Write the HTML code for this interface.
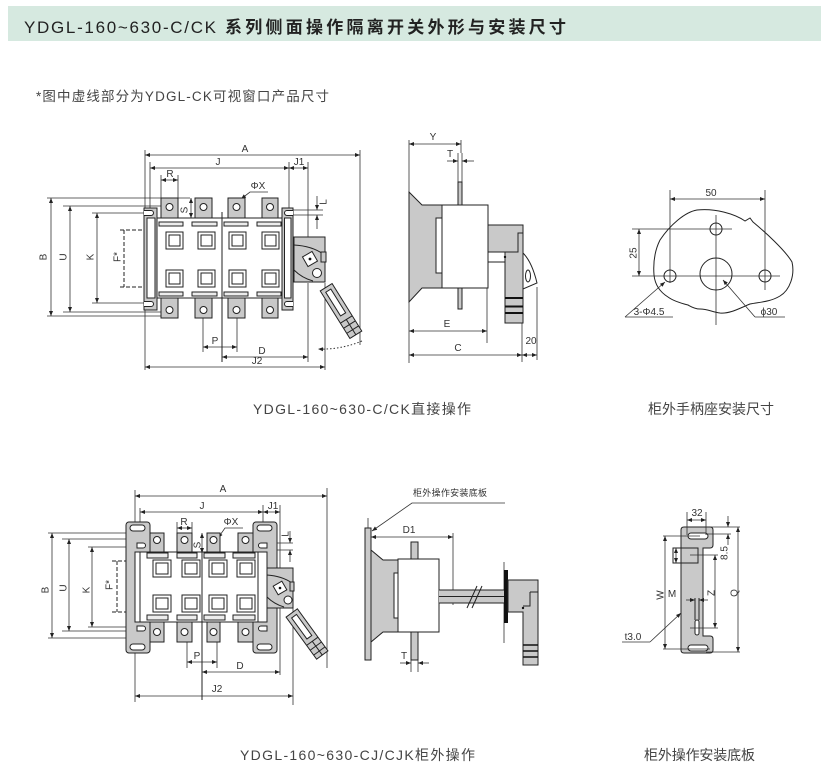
<!DOCTYPE html>
<html><head><meta charset="utf-8"><style>
html,body{margin:0;padding:0;background:#fff;}
svg{display:block;}
.o{stroke:#222;stroke-width:1;fill:none}
.g{fill:#c9c9c9;stroke:#222;stroke-width:1}
.w{fill:#fff;stroke:#222;stroke-width:1}
.s{fill:#ececec;stroke:#222;stroke-width:1}
.d{stroke:#333;stroke-width:0.8;fill:none}
.dm{stroke:#333;stroke-width:0.8;fill:none;marker-start:url(#a);marker-end:url(#a)}
.de{stroke:#333;stroke-width:0.8;fill:none;marker-end:url(#a)}
.ds{stroke:#222;stroke-width:1;fill:none;stroke-dasharray:4 2}
.t{font-family:"Liberation Sans",sans-serif;font-size:10px;fill:#333;text-anchor:middle}
.cj{font-family:"Liberation Sans","Noto Sans CJK SC",sans-serif;}
</style></head><body>
<svg width="829" height="774" viewBox="0 0 829 774" xmlns="http://www.w3.org/2000/svg">
<defs>
<marker id="a" viewBox="0 0 10 10" refX="10" refY="5" markerUnits="userSpaceOnUse" markerWidth="6" markerHeight="5" orient="auto-start-reverse"><path d="M0,1 L10,5 L0,9z" fill="#222"/></marker>
</defs>

<!-- Header -->
<rect x="8" y="6" width="813" height="35" fill="#d6e9e0"/>
<text class="cj" x="24" y="33" font-size="17" fill="#222" textLength="192" lengthAdjust="spacing">YDGL-160~630-C/CK</text>
<text class="cj" x="225" y="33" font-size="17" font-weight="bold" fill="#222" textLength="341" lengthAdjust="spacing">系列侧面操作隔离开关外形与安装尺寸</text>
<text class="cj" x="36" y="101" font-size="13.5" fill="#444" textLength="293" lengthAdjust="spacing">*图中虚线部分为YDGL-CK可视窗口产品尺寸</text>

<!-- Captions -->
<text class="cj" x="253" y="414" font-size="14" fill="#444" textLength="218" lengthAdjust="spacing">YDGL-160~630-C/CK直接操作</text>
<text class="cj" x="648" y="414" font-size="14" fill="#444" textLength="126" lengthAdjust="spacing">柜外手柄座安装尺寸</text>
<text class="cj" x="240" y="760" font-size="14" fill="#444" textLength="235" lengthAdjust="spacing">YDGL-160~630-CJ/CJK柜外操作</text>
<text class="cj" x="644" y="760" font-size="14" fill="#444" textLength="111" lengthAdjust="spacing">柜外操作安装底板</text>

<!-- ============ TOP-LEFT FRONT VIEW ============ -->
<path class="d" d="M145 150V370 M150 162V210 M289 162V210 M308 162V237 M360 150V345 M161 175V198 M178 175V198 M47 198H190 M47 316H170 M63 206H175 M63 312H170 M92 213H148 M92 303H148 M288 210H323 M288 215H323 M203 313V352 M237 313V352 M308 283V362 M325 283V370"/>
<path class="dm" d="M145 155H360"/>
<path class="dm" d="M150 168H289"/>
<path class="dm" d="M289 168H308"/>
<path class="dm" d="M161 180H178"/>
<path class="dm" d="M51 198V316"/>
<path class="dm" d="M70 206V312"/>
<path class="dm" d="M97 213V303"/>
<path class="dm" d="M191 198V218"/>
<path class="dm" d="M203 347H237"/>
<path class="dm" d="M222 357H308"/>
<path class="dm" d="M145 367H325"/>
<path class="de" d="M317 196V210"/>
<path class="de" d="M317 229V215"/>
<path class="ds" d="M124 230V287 M120 230H165 M120 287H165"/>
<path class="de" d="M268 192H250L241 199"/>
<text class="t" x="245" y="152">A</text>
<text class="t" x="218" y="165">J</text>
<text class="t" x="299" y="165">J1</text>
<text class="t" x="170" y="177">R</text>
<text class="t" x="258" y="189">ΦX</text>
<text class="t" x="215" y="344">P</text>
<text class="t" x="262" y="354">D</text>
<text class="t" x="257" y="364">J2</text>
<text class="t" transform="translate(43,257) rotate(-90)" y="3.5">B</text>
<text class="t" transform="translate(63,257) rotate(-90)" y="3.5">U</text>
<text class="t" transform="translate(90,257) rotate(-90)" y="3.5">K</text>
<text class="t" transform="translate(117,257) rotate(-90)" y="3.5">F*</text>
<text class="t" transform="translate(184,210) rotate(-90)" y="3.5">S</text>
<text class="t" transform="translate(323,202) rotate(-90)" y="3.5">L</text>

<!-- terminals -->
<g>
<rect class="g" x="161" y="198" width="17" height="20"/><circle class="w" cx="169.5" cy="207" r="3.5"/>
<rect class="g" x="195" y="198" width="17" height="20"/><circle class="w" cx="203.5" cy="207" r="3.5"/>
<rect class="g" x="228" y="198" width="17" height="20"/><circle class="w" cx="236.5" cy="207" r="3.5"/>
<rect class="g" x="262" y="198" width="16" height="20"/><circle class="w" cx="270" cy="207" r="3.5"/>
<rect class="g" x="161" y="298" width="17" height="20"/><circle class="w" cx="169.5" cy="310" r="3.5"/>
<rect class="g" x="195" y="298" width="17" height="20"/><circle class="w" cx="203.5" cy="310" r="3.5"/>
<rect class="g" x="228" y="298" width="17" height="20"/><circle class="w" cx="236.5" cy="310" r="3.5"/>
<rect class="g" x="262" y="298" width="16" height="20"/><circle class="w" cx="270" cy="310" r="3.5"/>
</g>
<!-- brackets -->
<rect class="g" x="144" y="208" width="13" height="102"/>
<rect class="w" x="147" y="218" width="8" height="80"/>
<path class="w" d="M144 210.5H151a2.5 2.5 0 0 1 0 5H144 M144 301.5H151a2.5 2.5 0 0 1 0 5H144"/>
<rect class="g" x="282" y="208" width="11" height="102"/>
<rect class="w" x="284.5" y="218" width="6.5" height="80"/>
<path class="w" d="M293 210.5H287a2.5 2.5 0 0 0 0 5H293 M293 301.5H287a2.5 2.5 0 0 0 0 5H293"/>
<!-- body -->
<rect class="w" x="157" y="218" width="125" height="80"/>
<path class="o" d="M222 212V362" stroke-width="0.9"/>
<rect class="s" x="159" y="222" width="24" height="4"/><rect class="s" x="192" y="222" width="25" height="4"/><rect class="s" x="224" y="222" width="24" height="4"/><rect class="s" x="257" y="222" width="24" height="4"/>
<rect class="s" x="159" y="292" width="24" height="4"/><rect class="s" x="192" y="292" width="25" height="4"/><rect class="s" x="224" y="292" width="24" height="4"/><rect class="s" x="257" y="292" width="24" height="4"/>
<g stroke-width="1.3">
<rect class="w" x="166" y="232" width="17" height="17"/><rect class="w" x="169" y="235" width="11" height="11"/>
<rect class="w" x="198" y="232" width="17" height="17"/><rect class="w" x="201" y="235" width="11" height="11"/>
<rect class="w" x="229" y="232" width="17" height="17"/><rect class="w" x="232" y="235" width="11" height="11"/>
<rect class="w" x="262" y="232" width="17" height="17"/><rect class="w" x="265" y="235" width="11" height="11"/>
<rect class="w" x="166" y="270" width="17" height="17"/><rect class="w" x="169" y="273" width="11" height="11"/>
<rect class="w" x="198" y="270" width="17" height="17"/><rect class="w" x="201" y="273" width="11" height="11"/>
<rect class="w" x="229" y="270" width="17" height="17"/><rect class="w" x="232" y="273" width="11" height="11"/>
<rect class="w" x="262" y="270" width="17" height="17"/><rect class="w" x="265" y="273" width="11" height="11"/>
</g>
<!-- handle base -->
<rect class="g" x="294" y="237" width="31" height="45"/>
<path class="o" d="M294 245Q312 246 323 254 M294 270Q302 278 313 281"/>
<rect class="g" x="321" y="252" width="5" height="10"/>
<rect class="w" x="304.5" y="253.5" width="11" height="11" transform="rotate(-30 310 259)"/>
<circle cx="310" cy="259" r="1.4" fill="#111"/>
<circle class="w" cx="317" cy="273" r="4.5"/>
<!-- grip -->
<g transform="translate(341,311) rotate(-32)">
<rect class="g" x="-7" y="-28" width="14" height="56"/>
<rect class="w" x="-3" y="-24" width="6" height="28"/>
<path class="o" d="M-7 10H7 M-7 16H7 M-7 22H7 M0 10V28"/>
</g>
<path d="M362 341Q340 350 318 349" stroke="#333" stroke-width="1" fill="none" stroke-dasharray="1.5 2" marker-end="url(#a)"/>

<!-- ============ TOP SIDE VIEW ============ -->
<path class="d" d="M409 140V363 M461 140V153 M458 153V182 M462 153V182 M487 288V343 M522 323V362 M537 287V360"/>
<path class="dm" d="M409 144H461"/>
<path class="de" d="M447 161H458"/>
<path class="de" d="M474 161H462"/>
<path class="dm" d="M409 331H487"/>
<path class="dm" d="M409 355H522"/>
<path class="dm" d="M522 355H537"/>
<text class="t" x="433" y="140">Y</text>
<text class="t" x="450" y="157">T</text>
<text class="t" x="447" y="327">E</text>
<text class="t" x="458" y="351">C</text>
<text class="t" x="531" y="344">20</text>
<rect class="g" x="458" y="182" width="4" height="23"/>
<rect class="g" x="458" y="288" width="4" height="21"/>
<polygon class="g" points="409,192 422,205 442,205 442,288 422,288 409,302"/>
<rect class="w" x="436" y="218" width="6" height="55"/>
<rect class="w" x="442" y="205" width="46" height="83"/>
<polygon class="g" points="488,225 523,225 523,323 505,323 505,252 488,252"/>
<path class="o" d="M488 262H505 M505 252H518V233H523"/>
<circle cx="505" cy="257" r="1.2" fill="#111"/>
<path d="M505 298H523 M505 306.5H523 M505 313H523" stroke="#111" stroke-width="2"/>
<path class="w" d="M523 253Q532 262 537 283L523 289Z"/>
<ellipse class="w" cx="528" cy="276" rx="2.5" ry="6"/>

<!-- ============ TOP RIGHT MOUNT ============ -->
<path class="d" d="M670 190V283 M765 190V290 M632 276H780 M716 215V325 M632 229H732"/>
<path class="dm" d="M670 199H765"/>
<path class="dm" d="M639 229V276"/>
<text class="t" x="711" y="196">50</text>
<text class="t" transform="translate(633,253) rotate(-90)" y="3.5">25</text>
<path class="o" d="M660,240 C670,225 685,212 697,210 C715,208 735,214 745,221 L750,218 L753,222 C765,232 785,250 792,262 C795,275 790,290 780,296 C770,302 760,302 750,304 C740,308 730,314 720,313 C712,312 708,309 700,309 C694,309 690,306 688,305 C680,303 672,300 668,297 C660,292 655,285 654,275 C653,262 655,250 660,240 Z"/>
<circle class="o" cx="716" cy="229" r="6"/>
<circle class="o" cx="670" cy="276" r="6"/>
<circle class="o" cx="765" cy="276" r="6"/>
<circle class="o" cx="716" cy="274" r="16"/>
<path class="de" d="M625 317L665 282"/>
<path class="d" d="M625 317H673"/>
<path class="de" d="M755 317L723 280"/>
<path class="d" d="M755 317H785"/>
<text class="t" x="649" y="315" font-size="9.5">3-Φ4.5</text>
<text class="t" x="769" y="315" font-size="9.5">ϕ30</text>

<!-- ============ BOTTOM-LEFT FRONT VIEW ============ -->
<path class="d" d="M135 490V702 M327 488V668 M140 508V525 M263 505V525 M280 505V675 M177 522V533 M192 522V533 M48 533H143 M48 638H143 M62 539H150 M62 631H150 M88 547H142 M88 627H142 M260 543H293 M260 550H293 M187 632V668 M217 632V668 M293 608V705"/>
<path class="dm" d="M135 496H327"/>
<path class="dm" d="M140 512H263"/>
<path class="dm" d="M263 512H280"/>
<path class="dm" d="M177 528H192"/>
<path class="dm" d="M52 533V638"/>
<path class="dm" d="M69 539V631"/>
<path class="dm" d="M92 547V627"/>
<path class="dm" d="M202 533V553"/>
<path class="dm" d="M187 662H217"/>
<path class="dm" d="M202 672H280"/>
<path class="dm" d="M135 696H293"/>
<path class="de" d="M290 531V543"/>
<path class="de" d="M290 562V550"/>
<path class="ds" d="M117 561V612 M112 561H152 M112 612H152"/>
<path class="de" d="M243 528H225L218 538"/>
<text class="t" x="223" y="492">A</text>
<text class="t" x="202" y="509">J</text>
<text class="t" x="273" y="509">J1</text>
<text class="t" x="184" y="525">R</text>
<text class="t" x="231" y="525">ΦX</text>
<text class="t" x="197" y="659">P</text>
<text class="t" x="240" y="669">D</text>
<text class="t" x="217" y="692">J2</text>
<text class="t" transform="translate(45,590) rotate(-90)" y="3.5">B</text>
<text class="t" transform="translate(63,588) rotate(-90)" y="3.5">U</text>
<text class="t" transform="translate(86,590) rotate(-90)" y="3.5">K</text>
<text class="t" transform="translate(109,585) rotate(-90)" y="3.5">F*</text>
<text class="t" transform="translate(197,545) rotate(-90)" y="3.5">S</text>
<text class="t" transform="translate(285,534) rotate(-90)" y="3.5">L</text>
<!-- brackets -->
<rect class="g" x="126" y="522" width="24" height="131" rx="3"/>
<rect class="w" x="130" y="525" width="15" height="6" rx="3"/>
<rect class="w" x="130" y="644" width="15" height="6" rx="3"/>
<rect class="g" x="253" y="522" width="24" height="131" rx="3"/>
<rect class="w" x="257" y="525" width="15" height="6" rx="3"/>
<rect class="w" x="257" y="644" width="15" height="6" rx="3"/>
<!-- terminals -->
<rect class="g" x="150" y="533" width="14" height="20"/><circle class="w" cx="157" cy="540" r="3.5"/>
<rect class="g" x="177" y="533" width="15" height="20"/><circle class="w" cx="184.5" cy="540" r="3.5"/>
<rect class="g" x="207" y="533" width="13" height="20"/><circle class="w" cx="213.5" cy="540" r="3.5"/>
<rect class="g" x="238" y="533" width="15" height="20"/><circle class="w" cx="245.5" cy="540" r="3.5"/>
<rect class="g" x="150" y="622" width="14" height="20"/><circle class="w" cx="157" cy="632" r="3.5"/>
<rect class="g" x="177" y="622" width="15" height="20"/><circle class="w" cx="184.5" cy="632" r="3.5"/>
<rect class="g" x="207" y="622" width="13" height="20"/><circle class="w" cx="213.5" cy="632" r="3.5"/>
<rect class="g" x="238" y="622" width="15" height="20"/><circle class="w" cx="245.5" cy="632" r="3.5"/>
<path class="w" d="M137 543H143a2.5 2.5 0 0 1 0 5H137Z M137 626H143a2.5 2.5 0 0 1 0 5H137Z M267 543H261a2.5 2.5 0 0 0 0 5H267Z M267 626H261a2.5 2.5 0 0 0 0 5H267Z"/>
<!-- body -->
<rect class="w" x="135" y="552" width="132" height="70"/>
<path class="o" d="M258 552V622 M140 552V622"/>
<path class="o" d="M202 548V700" stroke-width="0.9"/>
<rect class="s" x="147" y="553" width="21" height="5"/><rect class="s" x="177" y="553" width="20" height="5"/><rect class="s" x="204" y="553" width="21" height="5"/><rect class="s" x="233" y="553" width="22" height="5"/>
<rect class="s" x="147" y="615" width="21" height="5"/><rect class="s" x="177" y="615" width="20" height="5"/><rect class="s" x="204" y="615" width="21" height="5"/><rect class="s" x="233" y="615" width="22" height="5"/>
<g stroke-width="1.3">
<rect class="w" x="153" y="560" width="18" height="17"/><rect class="w" x="156" y="563" width="12" height="11"/>
<rect class="w" x="182" y="560" width="18" height="17"/><rect class="w" x="185" y="563" width="12" height="11"/>
<rect class="w" x="209" y="560" width="18" height="17"/><rect class="w" x="212" y="563" width="12" height="11"/>
<rect class="w" x="237" y="560" width="18" height="17"/><rect class="w" x="240" y="563" width="12" height="11"/>
<rect class="w" x="153" y="595" width="18" height="17"/><rect class="w" x="156" y="598" width="12" height="11"/>
<rect class="w" x="182" y="595" width="18" height="17"/><rect class="w" x="185" y="598" width="12" height="11"/>
<rect class="w" x="209" y="595" width="18" height="17"/><rect class="w" x="212" y="598" width="12" height="11"/>
<rect class="w" x="237" y="595" width="18" height="17"/><rect class="w" x="240" y="598" width="12" height="11"/>
</g>
<!-- handle base -->
<rect class="g" x="267" y="568" width="26" height="40"/>
<path class="o" d="M267 575Q282 576 292 583 M267 597Q274 604 284 607"/>
<rect class="g" x="290" y="582" width="4" height="9"/>
<rect class="w" x="275" y="583" width="10" height="10" transform="rotate(-30 280 588)"/>
<circle cx="280" cy="588" r="1.3" fill="#111"/>
<circle class="w" cx="288" cy="600" r="4"/>
<g transform="translate(307,634) rotate(-36)">
<rect class="g" x="-7" y="-26" width="14" height="52"/>
<rect class="w" x="-3" y="-22" width="6" height="26"/>
<path class="o" d="M-7 9H7 M-7 15H7 M-7 21H7 M0 9V26"/>
</g>

<!-- ============ BOTTOM MIDDLE SIDE VIEW ============ -->
<text class="cj" x="413" y="496" font-size="9" fill="#333" textLength="74" lengthAdjust="spacing">柜外操作安装底板</text>
<path class="de" d="M505 503H412L372 531"/>
<path class="d" d="M368 518V528 M453 533V605 M411 660V672 M418 660V672 M504 562V643"/>
<path class="dm" d="M371 537H453"/>
<path class="de" d="M400 663H411"/>
<path class="de" d="M429 663H418"/>
<text class="t" x="409" y="533">D1</text>
<text class="t" x="404" y="659">T</text>
<rect class="g" x="365" y="528" width="6" height="132"/>
<polygon class="g" points="371,550 383,560 398,560 398,632 383,632 371,642"/>
<rect class="w" x="394" y="573" width="5" height="45"/>
<rect class="g" x="411" y="542" width="7" height="17"/>
<rect class="g" x="411" y="632" width="7" height="28"/>
<rect class="w" x="398" y="559" width="41" height="73"/>
<rect x="439" y="590" width="65" height="13" fill="#c9c9c9"/>
<path class="o" d="M439 590H504 M439 596.5H504 M439 603H504"/>
<path class="o" d="M467 608L477 586 M472 608L482 586"/>
<rect x="504" y="570" width="4" height="53" fill="#111"/>
<polygon class="g" points="508,580 538,580 538,665 523,665 523,612 508,612"/>
<path class="o" d="M530 592H538 M530 592V606H523"/>
<circle cx="523" cy="608" r="1.2" fill="#111"/>
<path d="M523 645H538 M523 651H538 M523 657H538" stroke="#111" stroke-width="1.5"/>

<!-- ============ BOTTOM RIGHT PLATE ============ -->
<path class="g" d="M684,527 H710 Q713,527 713,530 V545 Q713,548 710,548 H703 V636 H710 Q713,636 713,639 V650 Q713,653 710,653 H684 Q681,653 681,650 V530 Q681,527 684,527 Z"/>
<rect class="w" x="688" y="533" width="20" height="6" rx="3"/>
<rect class="w" x="688" y="645" width="20" height="6" rx="3"/>
<rect class="o" x="673" y="548" width="25" height="15"/>
<path class="o" d="M695 598V620 M699 598V620"/>
<rect class="w" x="695" y="620" width="4" height="15" rx="2"/>
<path class="d" d="M687 512V535 M706 512V535 M706 527H740 M706 534H731 M690 555H718 M690 628H718 M663 536H700 M663 649H710 M706 652H740"/>
<path class="dm" d="M687 520H706"/>
<path class="de" d="M728 516V527"/>
<path class="de" d="M728 545V534"/>
<path class="dm" d="M715 555V628"/>
<path class="dm" d="M738 527V652"/>
<path class="dm" d="M665 536V649"/>
<path class="dm" d="M676 548V563"/>
<path class="de" d="M686 600H695"/>
<path class="de" d="M708 600H699"/>
<path class="de" d="M650 642L681 613"/>
<path class="d" d="M622 642H650"/>
<text class="t" x="697" y="516" font-size="9">32</text>
<text class="t" transform="translate(724,553) rotate(-90)" y="3.5" font-size="9">8.5</text>
<text class="t" transform="translate(711,593) rotate(-90)" y="3.5">Z</text>
<text class="t" transform="translate(734,593) rotate(-90)" y="3.5">Q</text>
<text class="t" transform="translate(660,595) rotate(-90)" y="3.5">W</text>
<text class="t" x="672" y="597">M</text>
<text class="t" x="633" y="640" font-size="9">t3.0</text>
</svg>
</body></html>
